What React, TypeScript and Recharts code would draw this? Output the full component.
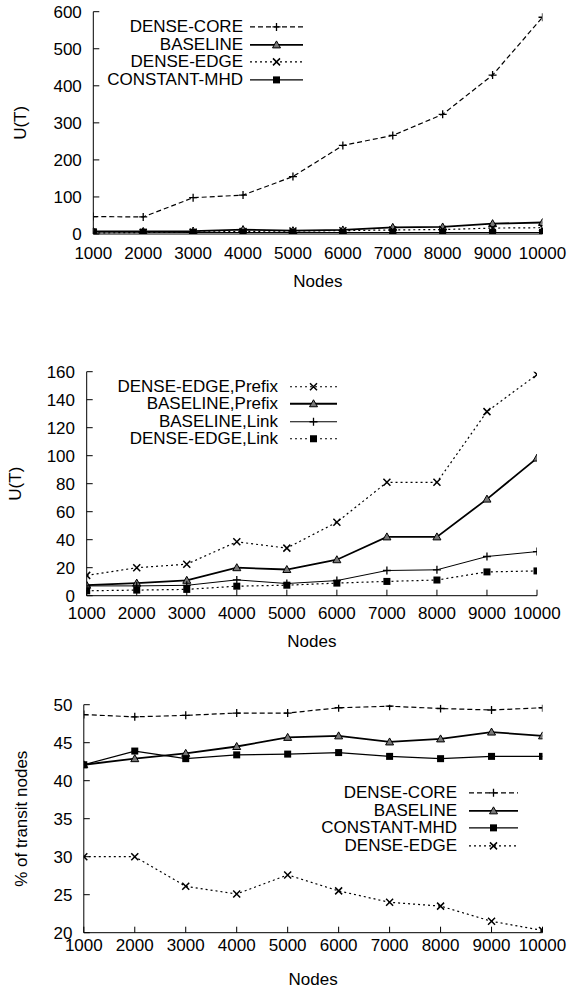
import React from 'react';
import { LineChart, Line, XAxis, YAxis, Legend, Label } from 'recharts';

const FONT = '"Liberation Sans", Arial, Helvetica, sans-serif';

const nodes = [1000, 2000, 3000, 4000, 5000, 6000, 7000, 8000, 9000, 10000];

// top panel: U(T)
const topDenseCore = [47, 46, 98, 105, 155, 239, 266, 323, 429, 585];
const topBaseline = [7, 7, 8, 12, 9, 11, 18, 19, 28, 31];
const topDenseEdge = [3, 4, 5, 7, 8, 9, 11, 12, 16, 17];
const topConstantMhd = [6, 5, 4, 4, 4, 4, 4, 4, 4, 4];
const topTicks = [0, 100, 200, 300, 400, 500, 600];

// middle panel: U(T), prefix vs link
const midEdgePrefix = [14.5, 20, 22.5, 38.5, 34, 52.5, 81, 81, 131.5, 158];
const midBasePrefix = [7.5, 9, 11, 20, 18.7, 25.7, 42, 42, 69, 98.3];
const midBaseLink = [7, 7, 7.4, 11.3, 8.7, 10.8, 18, 18.5, 28, 31.5];
const midEdgeLink = [3.5, 4, 4.5, 6.8, 7.5, 9, 10.2, 11.2, 17, 17.7];
const midTicks = [0, 20, 40, 60, 80, 100, 120, 140, 160];

// bottom panel: % of transit nodes
const botDenseCore = [48.7, 48.4, 48.6, 48.9, 48.9, 49.6, 49.8, 49.5, 49.3, 49.6];
const botBaseline = [42.1, 42.9, 43.6, 44.5, 45.7, 45.9, 45.1, 45.5, 46.4, 45.9];
const botConstantMhd = [42.1, 43.9, 42.9, 43.4, 43.5, 43.7, 43.2, 42.9, 43.2, 43.2];
const botDenseEdge = [30, 30, 26.1, 25.1, 27.6, 25.5, 24.0, 23.5, 21.5, 20.3];
const botTicks = [20, 25, 30, 35, 40, 45, 50];

type Shape = 'plus' | 'triangle' | 'cross' | 'square';

type Series = {
  key: string;
  name: string;
  values: number[];
  shape: Shape;
  dash?: string;
  width: number;
};

const Marker = ({ shape, cx, cy }: { shape: Shape; cx: number; cy: number }) => {
  if (shape === 'plus')
    return <path d={`M${cx - 4},${cy}H${cx + 4}M${cx},${cy - 4}V${cy + 4}`} stroke="#000" strokeWidth={1.3} fill="none" />;
  if (shape === 'triangle')
    return <path d={`M${cx},${cy - 4}L${cx + 4},${cy + 3}L${cx - 4},${cy + 3}Z`} fill="#777" stroke="#000" strokeWidth={1} />;
  if (shape === 'cross')
    return <path d={`M${cx - 3.5},${cy - 3.5}L${cx + 3.5},${cy + 3.5}M${cx - 3.5},${cy + 3.5}L${cx + 3.5},${cy - 3.5}`} stroke="#000" strokeWidth={1.5} fill="none" />;
  return <rect x={cx - 3.5} y={cy - 3.5} width={7} height={7} fill="#000" />;
};

const LegendBox = ({ series, textRight, lineStart, lineEnd, rowH }: {
  series: Series[]; textRight: number; lineStart: number; lineEnd: number; rowH: number;
}) => (
  <div style={{ fontFamily: FONT, fontSize: 17, color: '#000' }}>
    {series.map((s) => (
      <div key={s.key} style={{ position: 'relative', height: rowH }}>
        <span style={{ position: 'absolute', right: 571 - textRight, top: 0, lineHeight: `${rowH}px`, whiteSpace: 'nowrap' }}>
          {s.name}
        </span>
        <svg width={lineEnd - lineStart + 10} height={rowH} style={{ position: 'absolute', left: lineStart - 5, top: 0 }}>
          <line x1={5} x2={lineEnd - lineStart + 5} y1={rowH / 2} y2={rowH / 2} stroke="#000" strokeWidth={s.width} strokeDasharray={s.dash} />
          <Marker shape={s.shape} cx={(lineEnd - lineStart) / 2 + 5} cy={rowH / 2} />
        </svg>
      </div>
    ))}
  </div>
);

type PanelProps = {
  top: number;
  height: number;
  series: Series[];
  yDomain: [number, number];
  yTicks: number[];
  yLabel: string;
  plotTop: number;
  plotBottom: number;
  plotLeft: number;
  plotRight: number;
  xTickGap: number;
  yTickGap: number;
  nodesOffset: number;
  yLabelX: number;
  legend: { top: number; textRight: number; lineStart: number; lineEnd: number; rowH: number };
};

const Panel = (p: PanelProps) => {
  const data = nodes.map((n, i) => {
    const row: Record<string, number> = { n };
    p.series.forEach((s) => { row[s.key] = s.values[i]; });
    return row;
  });
  const tickStyle = { fill: '#000', fontSize: 17, fontFamily: FONT };
  return (
    <div style={{ position: 'absolute', left: 0, top: p.top }}>
      <LineChart
        width={571}
        height={p.height}
        data={data}
        margin={{ top: p.plotTop, right: 571 - p.plotRight, left: 0, bottom: 0 }}
        style={{ fontFamily: FONT }}
      >
        <XAxis
          dataKey="n"
          type="number"
          domain={[1000, 10000]}
          ticks={nodes}
          allowDataOverflow
          height={p.height - p.plotBottom}
          stroke="#000"
          tickSize={-6}
          tickMargin={p.xTickGap}
          tick={tickStyle}
          interval={0}
        >
          <Label value="Nodes" position="insideBottom" offset={p.nodesOffset} style={{ fontSize: 17, fontFamily: FONT, fill: '#000' }} />
        </XAxis>
        <XAxis
          xAxisId="top"
          orientation="top"
          dataKey="n"
          type="number"
          domain={[1000, 10000]}
          ticks={nodes}
          allowDataOverflow
          height={0}
          stroke="#000"
          tickSize={-6}
          tick={false}
          interval={0}
        />
        <YAxis
          type="number"
          domain={p.yDomain}
          ticks={p.yTicks}
          allowDataOverflow
          width={p.plotLeft}
          stroke="#000"
          tickSize={-6}
          tickMargin={p.yTickGap}
          tick={tickStyle}
          interval={0}
        >
          <Label
            value={p.yLabel}
            angle={-90}
            position="insideLeft"
            offset={p.yLabelX}
            style={{ fontSize: 17, fontFamily: FONT, fill: '#000', textAnchor: 'middle' }}
          />
        </YAxis>
        <YAxis
          yAxisId="right"
          orientation="right"
          type="number"
          domain={p.yDomain}
          ticks={p.yTicks}
          allowDataOverflow
          width={0}
          stroke="#000"
          tickSize={-6}
          tick={false}
          interval={0}
        />
        <Legend
          layout="vertical"
          align="center"
          verticalAlign="middle"
          wrapperStyle={{ left: 0, top: p.legend.top, width: 571 }}
          content={() => (
            <LegendBox
              series={p.series}
              textRight={p.legend.textRight}
              lineStart={p.legend.lineStart}
              lineEnd={p.legend.lineEnd}
              rowH={p.legend.rowH}
            />
          )}
        />
        {p.series.map((s) => (
          <Line
            key={s.key}
            dataKey={s.key}
            name={s.name}
            type="linear"
            stroke="#000"
            strokeWidth={s.width}
            strokeDasharray={s.dash}
            isAnimationActive={false}
            activeDot={false}
            dot={(d: any) => <Marker key={`${s.key}-${d.index}`} shape={s.shape} cx={d.cx} cy={d.cy} />}
          />
        ))}
      </LineChart>
    </div>
  );
};

const topSeries: Series[] = [
  { key: 'dc', name: 'DENSE-CORE', values: topDenseCore, shape: 'plus', dash: '5 3', width: 1.2 },
  { key: 'bl', name: 'BASELINE', values: topBaseline, shape: 'triangle', width: 1.8 },
  { key: 'de', name: 'DENSE-EDGE', values: topDenseEdge, shape: 'cross', dash: '2 3', width: 1.2 },
  { key: 'cm', name: 'CONSTANT-MHD', values: topConstantMhd, shape: 'square', width: 1.2 },
];

const midSeries: Series[] = [
  { key: 'ep', name: 'DENSE-EDGE,Prefix', values: midEdgePrefix, shape: 'cross', dash: '2 3', width: 1.2 },
  { key: 'bp', name: 'BASELINE,Prefix', values: midBasePrefix, shape: 'triangle', width: 1.8 },
  { key: 'bk', name: 'BASELINE,Link', values: midBaseLink, shape: 'plus', width: 1 },
  { key: 'ek', name: 'DENSE-EDGE,Link', values: midEdgeLink, shape: 'square', dash: '2 3', width: 1.2 },
];

const botSeries: Series[] = [
  { key: 'dc', name: 'DENSE-CORE', values: botDenseCore, shape: 'plus', dash: '5 3', width: 1.2 },
  { key: 'bl', name: 'BASELINE', values: botBaseline, shape: 'triangle', width: 1.8 },
  { key: 'cm', name: 'CONSTANT-MHD', values: botConstantMhd, shape: 'square', width: 1.2 },
  { key: 'de', name: 'DENSE-EDGE', values: botDenseEdge, shape: 'cross', dash: '2 3', width: 1.2 },
];

export default function App() {
  return (
    <div style={{ position: 'absolute', left: 0, top: 0, width: 571, height: 990, background: '#fff' }}>
      <Panel
        top={0}
        height={300}
        series={topSeries}
        yDomain={[0, 600]}
        yTicks={topTicks}
        yLabel="U(T)"
        plotTop={11.7}
        plotBottom={234}
        plotLeft={93.3}
        plotRight={542.5}
        xTickGap={18.7}
        yTickGap={17.5}
        nodesOffset={13}
        yLabelX={20}
        legend={{ top: 17.8, textRight: 243, lineStart: 250, lineEnd: 303, rowH: 17.8 }}
      />
      <Panel
        top={330}
        height={330}
        series={midSeries}
        yDomain={[0, 160]}
        yTicks={midTicks}
        yLabel="U(T)"
        plotTop={41.7}
        plotBottom={265.7}
        plotLeft={86.7}
        plotRight={537}
        xTickGap={17}
        yTickGap={17.7}
        nodesOffset={13}
        yLabelX={14.6}
        legend={{ top: 47.9, textRight: 278, lineStart: 290, lineEnd: 337, rowH: 17.5 }}
      />
      <Panel
        top={660}
        height={330}
        series={botSeries}
        yDomain={[20, 50]}
        yTicks={botTicks}
        yLabel="% of transit nodes"
        plotTop={44.7}
        plotBottom={272.7}
        plotLeft={83.8}
        plotRight={542.5}
        xTickGap={12.5}
        yTickGap={17.4}
        nodesOffset={5}
        yLabelX={21}
        legend={{ top: 123.9, textRight: 457, lineStart: 469, lineEnd: 518, rowH: 17.7 }}
      />
    </div>
  );
}
